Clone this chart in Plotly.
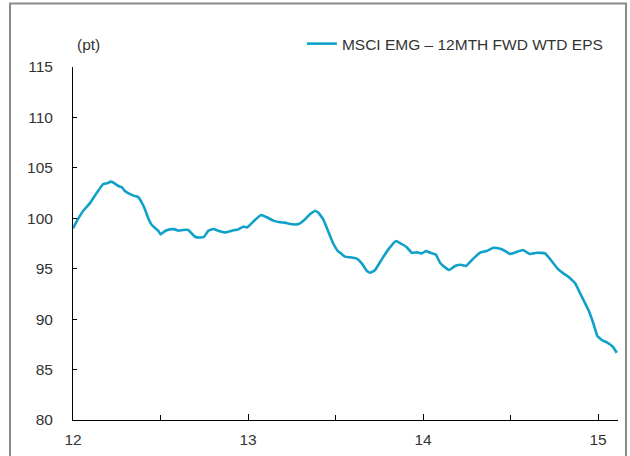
import plotly.graph_objects as go

series_name = "MSCI EMG – 12MTH FWD WTD EPS"
unit_label = "(pt)"

x_years = [12.000, 12.021, 12.059, 12.097, 12.135, 12.173, 12.196, 12.215, 12.234, 12.259,
           12.278, 12.297, 12.326, 12.354, 12.373, 12.393, 12.411, 12.430, 12.450, 12.478,
           12.487, 12.501, 12.526, 12.554, 12.583, 12.602, 12.630, 12.659, 12.678, 12.697,
           12.726, 12.749, 12.773, 12.802, 12.830, 12.869, 12.907, 12.945, 12.973, 12.996,
           13.030, 13.074, 13.107, 13.145, 13.183, 13.211, 13.240, 13.278, 13.297, 13.326,
           13.354, 13.383, 13.402, 13.430, 13.459, 13.487, 13.516, 13.526, 13.554, 13.583,
           13.621, 13.650, 13.678, 13.697, 13.726, 13.764, 13.802, 13.846, 13.878, 13.907,
           13.935, 13.964, 13.993, 14.017, 14.040, 14.074, 14.097, 14.126, 14.150, 14.183,
           14.215, 14.246, 14.287, 14.326, 14.364, 14.402, 14.421, 14.459, 14.497, 14.535,
           14.570, 14.611, 14.650, 14.697, 14.726, 14.767, 14.802, 14.830, 14.869, 14.907,
           14.945, 14.973, 14.996, 15.027, 15.050, 15.084, 15.107]

eps_values = [99.0, 99.7, 100.75, 101.5, 102.5, 103.4, 103.47, 103.63, 103.5, 103.2,
              103.1, 102.7, 102.4, 102.2, 102.1, 101.55, 100.9, 100.0, 99.33, 98.9,
              98.77, 98.4, 98.74, 98.9, 98.9, 98.77, 98.84, 98.84, 98.5, 98.17,
              98.1, 98.17, 98.77, 98.94, 98.77, 98.6, 98.77, 98.9, 99.17, 99.1,
              99.67, 100.33, 100.1, 99.77, 99.6, 99.57, 99.43, 99.4, 99.5, 99.9,
              100.4, 100.72, 100.55, 99.9, 98.67, 97.5, 96.69, 96.59, 96.2, 96.13,
              96.0, 95.53, 94.8, 94.6, 94.87, 95.93, 96.92, 97.75, 97.45, 97.12,
              96.59, 96.62, 96.52, 96.75, 96.59, 96.39, 95.6, 95.13, 94.87, 95.27,
              95.4, 95.27, 96.0, 96.59, 96.76, 97.08, 97.05, 96.86, 96.46, 96.66,
              96.86, 96.46, 96.59, 96.52, 95.96, 95.04, 94.54, 94.21, 93.55, 92.23,
              90.9, 89.59, 88.33, 87.86, 87.7, 87.27, 86.67]

x_tick_vals = [12, 13, 14, 15]
x_tick_text = ["12", "13", "14", "15"]
y_tick_vals = [80, 85, 90, 95, 100, 105, 110, 115]

FONT = "Liberation Sans, Arial, sans-serif"
TXT = "#333333"
LINE_COLOR = "#0FA1C9"

fig = go.Figure()
fig.add_trace(go.Scatter(
    x=x_years, y=eps_values, mode="lines", name=series_name,
    line=dict(color=LINE_COLOR, width=2.6, shape="spline", smoothing=0.3),
))

fig.update_layout(
    width=630, height=456,
    margin=dict(l=73, r=12, t=67, b=36, autoexpand=False),
    paper_bgcolor="white", plot_bgcolor="white",
    font=dict(family=FONT, size=15.5, color=TXT),
    showlegend=True,
    legend=dict(x=0.42, y=1.065, xanchor="left", yanchor="middle",
                bgcolor="rgba(0,0,0,0)", font=dict(size=15.5, color=TXT),
                itemwidth=30),
    xaxis=dict(range=[12, 15.114], tickvals=x_tick_vals, ticktext=x_tick_text,
               showgrid=False, zeroline=False, showline=True, linecolor="black",
               linewidth=1, ticks="inside", ticklen=6, tickcolor="black",
               ticklabelstandoff=5, automargin=False,
               minor=dict(ticks="inside", dtick=0.5, tick0=12, ticklen=5,
                          tickcolor="black", showgrid=False)),
    yaxis=dict(range=[80, 115], tickvals=y_tick_vals, showgrid=False,
               zeroline=False, showline=True, linecolor="black", linewidth=1,
               ticks="inside", ticklen=4, tickcolor="black",
               ticklabelstandoff=16, automargin=False),
)

fig.add_annotation(text=unit_label, xref="paper", yref="paper", x=0.004, y=1.065,
                   xanchor="left", yanchor="middle", showarrow=False,
                   font=dict(size=15.5, color=TXT))

fig.add_shape(type="rect", xref="paper", yref="paper",
              x0=-0.1156, x1=1.0147, y0=-0.3, y1=1.180,
              line=dict(color="#8a8a8a", width=2), layer="above")

fig.write_html("out.html")
